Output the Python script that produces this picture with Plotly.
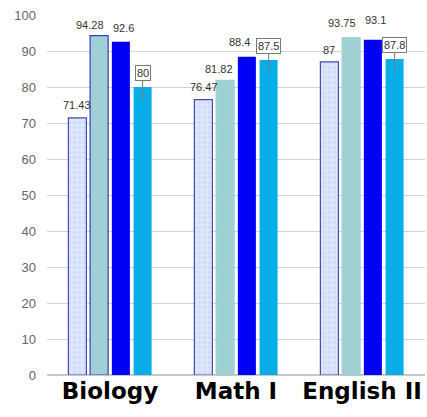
import plotly.graph_objects as go

subjects = ["Biology", "Math I", "English II"]
series_a = [71.43, 76.47, 87]
series_b = [94.28, 81.82, 93.75]
series_c = [92.6, 88.4, 93.1]
series_d = [80, 87.5, 87.8]
y_ticks = list(range(0, 101, 10))

label_font = dict(family="Arial, Liberation Sans", size=11, color="#333333")

fig = go.Figure()

fig.add_trace(go.Bar(
    x=subjects, y=series_a,
    marker=dict(color="#dde7fb", line=dict(color="#4a4ab0", width=1.2),
                pattern=dict(shape=".", fgcolor="#c3d2f0", size=5, solidity=0.35)),
))
fig.add_trace(go.Bar(
    x=subjects, y=series_b,
    marker=dict(color="#9fd1d4",
                line=dict(color=["#3a3ac0", "#9fd1d4", "#9fd1d4"], width=1.2)),
))
fig.add_trace(go.Bar(
    x=subjects, y=series_c,
    marker=dict(color="#0000f5", line=dict(width=0)),
))
fig.add_trace(go.Bar(
    x=subjects, y=series_d,
    marker=dict(color="#09aee8", line=dict(width=0)),
))

slot_px = 21.75

# plain value labels above the first three series (nudged to avoid collisions)
label_specs = [
    (series_a, -1.5 * slot_px, [0, 1, 0], [5, 5, 4]),
    (series_b, -0.5 * slot_px, [-9, -6, -9], [3, 3, 7]),
    (series_c, 0.5 * slot_px, [3, -7, 3], [6, 7, 12]),
]
for values, base_dx, nudges, lifts in label_specs:
    for i, v in enumerate(values):
        fig.add_annotation(
            x=i, y=v, xref="x", yref="y", xshift=base_dx + nudges[i],
            yshift=lifts[i], yanchor="bottom", text=f"{v:g}",
            showarrow=False, font=label_font,
        )

# callout boxes for the last series, pointing into the bar tops
for i, v in enumerate(series_d):
    fig.add_annotation(
        x=i, y=v - 3.6, xref="x", yref="y", xshift=1.5 * slot_px,
        text=f"{v:g}", showarrow=True, arrowhead=0, arrowwidth=1,
        arrowcolor="#7a7a7a", ax=0, ay=-27,
        bgcolor="white", bordercolor="#7a7a7a", borderwidth=1, borderpad=1,
        font=label_font,
    )

fig.update_layout(
    width=427, height=417,
    margin=dict(l=47, r=2, t=15, b=42),
    paper_bgcolor="white", plot_bgcolor="white",
    barmode="group", bargap=0.31, bargroupgap=0.17,
    showlegend=False,
    font=label_font,
)
fig.update_traces(cliponaxis=False, selector=dict(type="bar"))
fig.update_xaxes(
    range=[-0.5, 2.5], showgrid=False, showline=False, ticks="",
    tickfont=dict(family="DejaVu Sans", size=23, color="#000000", weight="bold"),
)
fig.update_yaxes(
    range=[0, 100], tickvals=y_ticks, showgrid=True, gridcolor="#d3d3d3",
    gridwidth=1, zeroline=True, zerolinecolor="#c8c8c8", showline=False,
    tickfont=dict(family="Arial, Liberation Sans", size=13, color="#666666"),
    ticks="", ticklabelstandoff=10,
)

fig.write_html("out.html")
